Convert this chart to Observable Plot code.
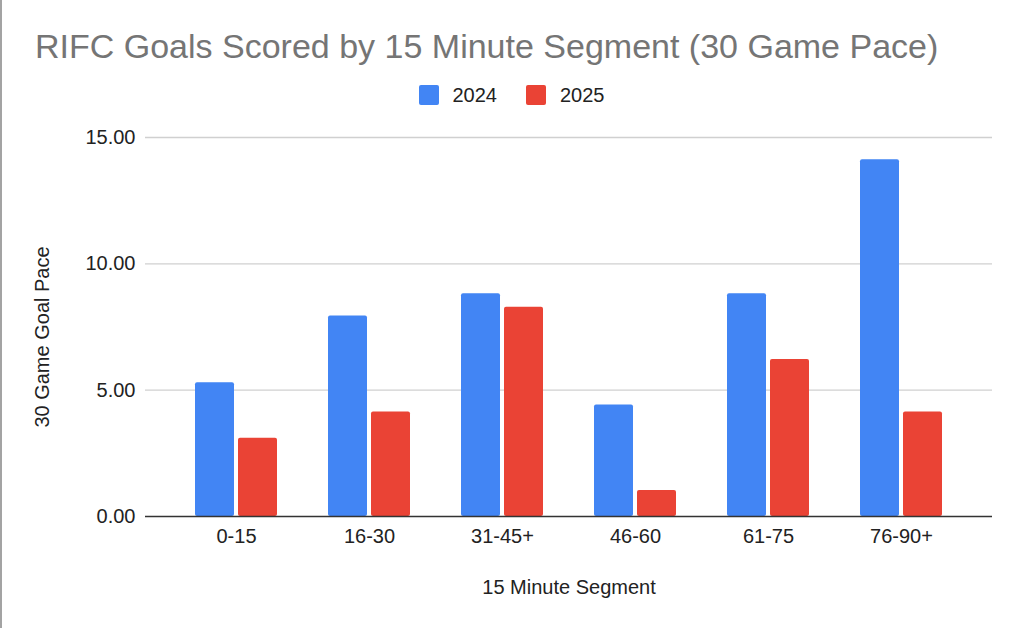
<!DOCTYPE html>
<html>
<head>
<meta charset="utf-8">
<script src="https://cdn.jsdelivr.net/npm/d3@7"></script>
<script src="https://cdn.jsdelivr.net/npm/@observablehq/plot@0.6"></script>
<style>
  html, body { margin: 0; padding: 0; background: #fff; }
  body { width: 1023px; height: 628px; overflow: hidden; position: relative;
         font-family: "Liberation Sans", Arial, Helvetica, sans-serif; }
  #edge { position: absolute; left: 0; top: 0; width: 2px; height: 628px; background: #a3a3a3; }
  #title { height: 70px; box-sizing: border-box; padding-top: 31px; padding-left: 35px;
           font-size: 34px; line-height: 31px; color: #757575; white-space: nowrap; }
  #legend { height: 45px; box-sizing: border-box; padding-top: 15px; display: flex;
            justify-content: center; align-items: flex-start; }
  .item { display: flex; align-items: center; height: 20px; font-size: 20px; line-height: 20px; color: #222; }
  .item + .item { margin-left: 29px; }
  .sw { width: 20px; height: 20px; border-radius: 2px; margin-right: 14px; }
  #chart svg { display: block; }
</style>
</head>
<body>
<div id="edge"></div>
<div id="title">RIFC Goals Scored by 15 Minute Segment (30 Game Pace)</div>
<div id="legend"></div>
<div id="chart"></div>
<script>
const segments = ["0-15", "16-30", "31-45+", "46-60", "61-75", "76-90+"];
const years = ["2024", "2025"];
const pace2024 = [5.29, 7.94, 8.82, 4.41, 8.82, 14.12];
const pace2025 = [3.10, 4.14, 8.28, 1.03, 6.21, 4.14];
const yTicks = [0, 5, 10, 15];
const colors = ["#4285F4", "#EA4335"];
const yTitle = "30 Game Goal Pace";
const xTitle = "15 Minute Segment";

const rows2024 = segments.map((s, i) => ({segment: s, year: years[0], value: pace2024[i]}));
const rows2025 = segments.map((s, i) => ({segment: s, year: years[1], value: pace2025[i]}));

// legend
const legend = document.getElementById("legend");
years.forEach((y, i) => {
  const it = document.createElement("div");
  it.className = "item";
  const sw = document.createElement("span");
  sw.className = "sw";
  sw.style.background = colors[i];
  it.appendChild(sw);
  it.appendChild(document.createTextNode(y));
  legend.appendChild(it);
});

const chart = Plot.plot({
  width: 1023,
  height: 513,
  marginLeft: 145,
  marginRight: 31,
  marginTop: 22,
  marginBottom: 112,
  style: {fontFamily: '"Liberation Sans", Arial, Helvetica, sans-serif', fontSize: "20px", color: "#222", background: "#fff"},
  x: {domain: segments, paddingInner: 0.385, paddingOuter: 0.367},
  y: {domain: [0, 15]},
  color: {domain: years, range: colors},
  marks: [
    Plot.ruleY(yTicks.slice(1), {stroke: "#d0d0d0", strokeWidth: 1.3}),
    Plot.barY(rows2024, {x: "segment", y: "value", fill: "year", insetRight: 43, rx: 2}),
    Plot.barY(rows2025, {x: "segment", y: "value", fill: "year", insetLeft: 43, rx: 2}),
    Plot.ruleY([0], {stroke: "#333", strokeWidth: 1.3}),
    Plot.axisY(yTicks, {tickFormat: d3.format(".2f"), tickSize: 0, tickPadding: 10, label: null}),
    Plot.text([yTitle], {frameAnchor: "left", textAnchor: "middle", lineAnchor: "middle",
      rotate: -90, dx: -103, dy: 10, fill: "#222"}),
    Plot.axisX({tickSize: 0, tickPadding: 12, label: xTitle, labelAnchor: "center",
      labelOffset: 77, labelArrow: "none"})
  ]
});
document.getElementById("chart").appendChild(chart);
</script>
</body>
</html>
